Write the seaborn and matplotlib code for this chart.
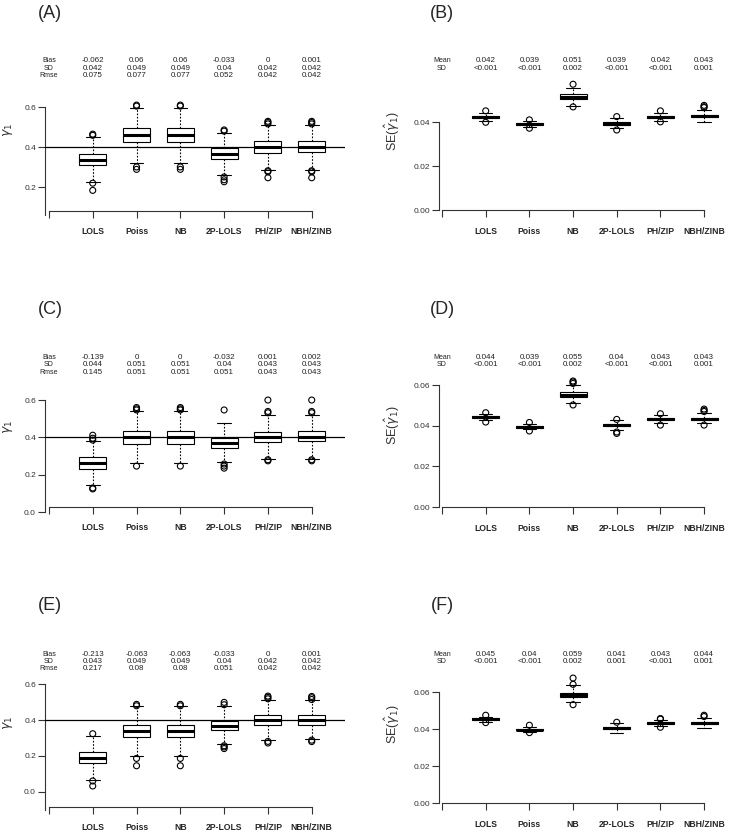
import matplotlib
matplotlib.use("Agg")
import matplotlib.pyplot as plt
import matplotlib.transforms as mtransforms
import numpy as np
import pandas as pd
import seaborn as sns

methods = ["LOLS", "Poiss", "NB", "2P-LOLS", "PH/ZIP", "NBH/ZINB"]

# five numbers per box: lower whisker, q1, median, q3, upper whisker
box_A = [[0.225, 0.310, 0.337, 0.365, 0.452],
         [0.323, 0.427, 0.460, 0.495, 0.598],
         [0.323, 0.427, 0.460, 0.495, 0.598],
         [0.263, 0.340, 0.365, 0.398, 0.473],
         [0.288, 0.372, 0.400, 0.430, 0.513],
         [0.288, 0.375, 0.401, 0.430, 0.513]]
out_A = [[0.466, 0.460, 0.221, 0.185],
         [0.611, 0.606, 0.302, 0.290],
         [0.611, 0.606, 0.302, 0.290],
         [0.487, 0.481, 0.252, 0.238, 0.228],
         [0.530, 0.524, 0.517, 0.283, 0.278, 0.248],
         [0.530, 0.524, 0.517, 0.283, 0.278, 0.248]]

box_C = [[0.144, 0.233, 0.263, 0.294, 0.381],
         [0.263, 0.365, 0.401, 0.436, 0.543],
         [0.263, 0.365, 0.401, 0.436, 0.543],
         [0.269, 0.345, 0.370, 0.397, 0.475],
         [0.287, 0.377, 0.403, 0.429, 0.520],
         [0.287, 0.381, 0.404, 0.433, 0.520]]
out_C = [[0.412, 0.396, 0.386, 0.130, 0.125],
         [0.560, 0.553, 0.547, 0.247],
         [0.560, 0.553, 0.547, 0.247],
         [0.547, 0.258, 0.247, 0.236],
         [0.600, 0.539, 0.532, 0.281, 0.275],
         [0.600, 0.539, 0.532, 0.281, 0.275]]

box_E = [[0.067, 0.158, 0.190, 0.220, 0.313],
         [0.201, 0.306, 0.339, 0.373, 0.481],
         [0.201, 0.306, 0.339, 0.373, 0.481],
         [0.266, 0.342, 0.367, 0.395, 0.478],
         [0.287, 0.373, 0.402, 0.427, 0.512],
         [0.295, 0.375, 0.402, 0.428, 0.510]]
out_E = [[0.324, 0.060, 0.032],
         [0.488, 0.480, 0.186, 0.145],
         [0.488, 0.480, 0.186, 0.145],
         [0.499, 0.486, 0.257, 0.250, 0.241],
         [0.534, 0.527, 0.519, 0.281, 0.272],
         [0.532, 0.525, 0.515, 0.288, 0.280]]

box_B = [[0.0406, 0.0418, 0.0423, 0.0428, 0.0444],
         [0.0380, 0.0387, 0.0391, 0.0395, 0.0406],
         [0.0476, 0.0504, 0.0515, 0.0529, 0.0558],
         [0.0373, 0.0389, 0.0394, 0.0400, 0.0418],
         [0.0408, 0.0419, 0.0423, 0.0428, 0.0444],
         [0.0402, 0.0424, 0.0429, 0.0434, 0.0456]]
out_B = [[0.0452, 0.0400],
         [0.0411, 0.0373],
         [0.0573, 0.0470],
         [0.0426, 0.0365],
         [0.0452, 0.0402],
         [0.0477, 0.0471, 0.0467]]

box_D = [[0.0428, 0.0436, 0.0441, 0.0446, 0.0456],
         [0.0382, 0.0390, 0.0395, 0.0399, 0.0410],
         [0.0513, 0.0539, 0.0551, 0.0565, 0.0598],
         [0.0378, 0.0397, 0.0402, 0.0407, 0.0426],
         [0.0413, 0.0428, 0.0432, 0.0437, 0.0454],
         [0.0411, 0.0429, 0.0434, 0.0439, 0.0461]]
out_D = [[0.0464, 0.0418],
         [0.0416, 0.0374],
         [0.0620, 0.0615, 0.0608, 0.0502],
         [0.0431, 0.0369, 0.0362],
         [0.0459, 0.0403],
         [0.0482, 0.0475, 0.0470, 0.0403]]

box_F = [[0.0441, 0.0449, 0.0454, 0.0459, 0.0468],
         [0.0387, 0.0394, 0.0398, 0.0402, 0.0414],
         [0.0546, 0.0574, 0.0586, 0.0598, 0.0638],
         [0.0380, 0.0403, 0.0407, 0.0412, 0.0434],
         [0.0416, 0.0428, 0.0433, 0.0438, 0.0450],
         [0.0407, 0.0431, 0.0436, 0.0441, 0.0463]]
out_F = [[0.0476, 0.0436],
         [0.0422, 0.0382],
         [0.0677, 0.0643, 0.0533],
         [0.0438],
         [0.0458, 0.0455, 0.0411],
         [0.0476, 0.0469]]

bias_A = ["-0.062", "0.06", "0.06", "-0.033", "0", "0.001"]
sd_A = ["0.042", "0.049", "0.049", "0.04", "0.042", "0.042"]
rmse_A = ["0.075", "0.077", "0.077", "0.052", "0.042", "0.042"]
bias_C = ["-0.139", "0", "0", "-0.032", "0.001", "0.002"]
sd_C = ["0.044", "0.051", "0.051", "0.04", "0.043", "0.043"]
rmse_C = ["0.145", "0.051", "0.051", "0.051", "0.043", "0.043"]
bias_E = ["-0.213", "-0.063", "-0.063", "-0.033", "0", "0.001"]
sd_E = ["0.043", "0.049", "0.049", "0.04", "0.042", "0.042"]
rmse_E = ["0.217", "0.08", "0.08", "0.051", "0.042", "0.042"]

mean_B = ["0.042", "0.039", "0.051", "0.039", "0.042", "0.043"]
sdse_B = ["<0.001", "<0.001", "0.002", "<0.001", "<0.001", "0.001"]
mean_D = ["0.044", "0.039", "0.055", "0.04", "0.043", "0.043"]
sdse_D = ["<0.001", "<0.001", "0.002", "<0.001", "<0.001", "0.001"]
mean_F = ["0.045", "0.04", "0.059", "0.041", "0.043", "0.044"]
sdse_F = ["<0.001", "<0.001", "0.002", "0.001", "<0.001", "0.001"]

W, H = 733, 836
sns.set_theme(style="ticks")
plt.rcParams["font.family"] = ["Liberation Sans", "DejaVu Sans"]

fig = plt.figure(figsize=(W / 100, H / 100), dpi=100)


def px_axes(left, top, right, bottom):
    return fig.add_axes([left / W, 1 - bottom / H, (right - left) / W, (bottom - top) / H])


def draw(ax, boxes, outs, xlim, ylim, spine_lo, spine_hi, xline, yticks, yfmt):
    box_df = pd.DataFrame({"method": np.repeat(methods, 5),
                           "value": np.concatenate(boxes)})
    out_df = pd.DataFrame({"method": [m for m, o in zip(methods, outs) for _ in o],
                           "value": [v for o in outs for v in o]})
    sns.boxplot(data=box_df, x="method", y="value", order=methods, whis=(0, 100),
                width=0.62, color="white", linecolor="black", linewidth=0.8,
                fliersize=0, medianprops=dict(linewidth=2.2),
                whiskerprops=dict(linestyle=(0, (1.5, 1.5))), ax=ax)
    sns.stripplot(data=out_df, x="method", y="value", order=methods, jitter=False,
                  color="none", edgecolor="black", linewidth=0.8, size=4.3,
                  clip_on=False, zorder=4, ax=ax)
    ax.set_xlim(*xlim)
    ax.set_ylim(*ylim)
    sns.despine(ax=ax)
    ax.spines["left"].set_bounds(spine_lo, spine_hi)
    ax.spines["bottom"].set_position(("data", xline))
    ax.spines["bottom"].set_bounds(-1, 5)
    for s in ("left", "bottom"):
        ax.spines[s].set_linewidth(0.8)
        ax.spines[s].set_color("#333333")
    ax.set_xticks(range(-1, 6))
    ax.set_xticklabels([""] + methods, fontweight="bold", fontsize=6.2)
    ax.set_yticks(yticks)
    ax.set_yticklabels([yfmt.format(t) for t in yticks])
    ax.tick_params(axis="x", length=5, width=0.8, pad=7, color="#333333")
    ax.tick_params(axis="y", length=5, width=0.8, pad=1.5, labelsize=6,
                   labelcolor="#333333", color="#333333")
    ax.set_xlabel("")
    ax.set_ylabel("")


def stats(ax, names, rows, ypix):
    trans = mtransforms.blended_transform_factory(ax.transData, fig.transFigure)
    for name, vals, yp in zip(names, rows, ypix):
        ax.text(-1, 1 - yp / H, name, transform=trans, ha="center", va="center",
                fontsize=5, color="#222222")
        for i, v in enumerate(vals):
            ax.text(i, 1 - yp / H, v, transform=trans, ha="center", va="center",
                    fontsize=5.8, color="#222222")


left_xlim = (-1.09, 5.76)
right_xlim = (-1.07, 5.5)

# left column (gamma estimates)
axA = px_axes(45, 103.3, 345, 215)
draw(axA, box_A, out_A, left_xlim, (0.062, 0.62), 0.062, 0.6, 0.083, [0.2, 0.4, 0.6], "{:.1f}")
axC = px_axes(45, 396.3, 345, 512.3)
draw(axC, box_C, out_C, left_xlim, (0.0, 0.62), 0.0, 0.6, 0.030, [0.0, 0.2, 0.4, 0.6], "{:.1f}")
axE = px_axes(45, 680.7, 345, 810)
draw(axE, box_E, out_E, left_xlim, (-0.102, 0.62), -0.102, 0.6, -0.084, [0.0, 0.2, 0.4, 0.6], "{:.1f}")

for ax, rows, ypix, ly in [(axA, [bias_A, sd_A, rmse_A], [61, 68, 75.3], 0.761),
                           (axC, [bias_C, sd_C, rmse_C], [357.7, 364.7, 372], 0.738),
                           (axE, [bias_E, sd_E, rmse_E], [654.3, 661.3, 668.7], 0.673)]:
    ax.axhline(0.4, color="black", lw=0.9, zorder=5)
    stats(ax, ["Bias", "SD", "Rmse"], rows, ypix)
    ax.set_ylabel(r"$\gamma_1$", fontsize=9, color="#333333")
    ax.yaxis.set_label_coords(-0.1, ly)

# right column (standard errors)
axB = px_axes(439, 82.7, 725.9, 210.3)
draw(axB, box_B, out_B, right_xlim, (0.0, 0.058), 0.0, 0.04, 0.0, [0.0, 0.02, 0.04], "{:.2f}")
axD = px_axes(439, 381, 725.9, 507)
draw(axD, box_D, out_D, right_xlim, (0.0, 0.062), 0.0, 0.06, 0.0, [0.0, 0.02, 0.04, 0.06], "{:.2f}")
axF = px_axes(439, 673.8, 725.9, 803.3)
draw(axF, box_F, out_F, right_xlim, (0.0, 0.07), 0.0, 0.06, 0.0, [0.0, 0.02, 0.04, 0.06], "{:.2f}")

for ax, rows, ypix, ly in [(axB, [mean_B, sdse_B], [61, 68], 0.624),
                           (axD, [mean_D, sdse_D], [357.7, 364.7], 0.652),
                           (axF, [mean_F, sdse_F], [654.3, 661.3], 0.612)]:
    stats(ax, ["Mean", "SD"], rows, ypix)
    ax.set_ylabel(r"SE($\hat{\gamma}_1$)", fontsize=9, color="#333333")
    ax.yaxis.set_label_coords(-0.129, ly)

for lab, x, y in [("(A)", 50, 13), ("(B)", 442, 13), ("(C)", 50, 309),
                  ("(D)", 442, 309), ("(E)", 50, 605), ("(F)", 442, 605)]:
    fig.text(x / W, 1 - y / H, lab, ha="center", va="center", fontsize=13)

fig.savefig("out.png", dpi=100)
